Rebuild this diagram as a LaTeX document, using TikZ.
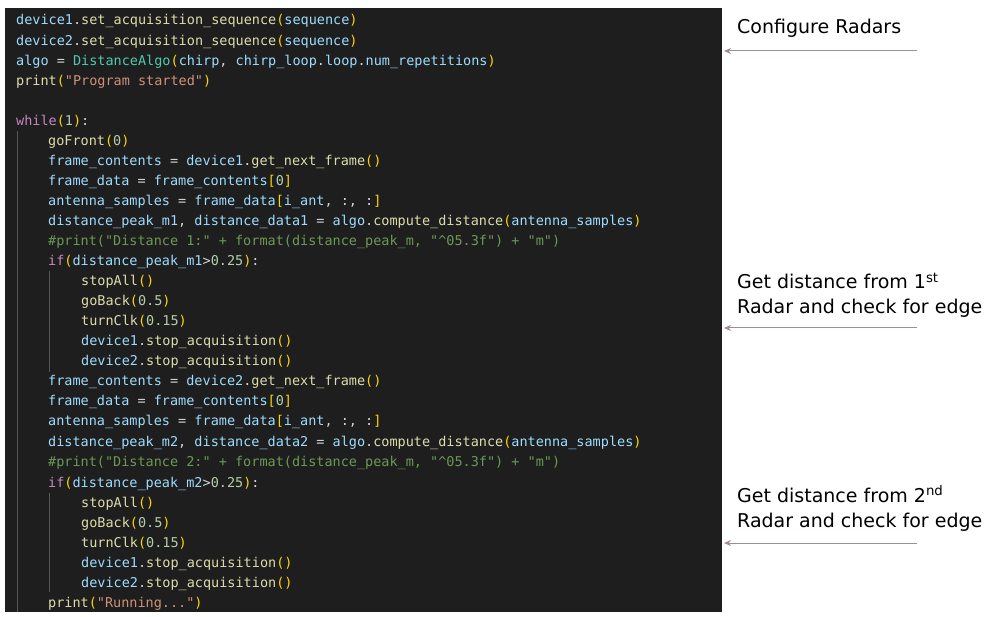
\documentclass[tikz,border=0pt]{standalone}
\usepackage{fontspec}
\setmainfont{DejaVu Sans}
\newfontfamily\codefont{DejaVu Sans Mono}
\usetikzlibrary{arrows.meta,positioning}

\definecolor{bgcode}{HTML}{1E1E1E}
\definecolor{cvar}{HTML}{9CDCFE}
\definecolor{cfun}{HTML}{DCDCAA}
\definecolor{ckey}{HTML}{C586C0}
\definecolor{cstr}{HTML}{CE9178}
\definecolor{cnum}{HTML}{B5CEA8}
\definecolor{ccom}{HTML}{6A9955}
\definecolor{ccls}{HTML}{4EC9B0}
\definecolor{cpar}{HTML}{FFD700}
\definecolor{cop}{HTML}{D4D4D4}
\definecolor{arrowgray}{HTML}{A08C92}

\newcommand{\cv}[1]{\textcolor{cvar}{#1}}
\newcommand{\cf}[1]{\textcolor{cfun}{#1}}
\newcommand{\ck}[1]{\textcolor{ckey}{#1}}
\newcommand{\cs}[1]{\textcolor{cstr}{#1}}
\newcommand{\cn}[1]{\textcolor{cnum}{#1}}
\newcommand{\cc}[1]{\textcolor{ccom}{#1}}
\newcommand{\ct}[1]{\textcolor{ccls}{#1}}
\newcommand{\cpl}{\textcolor{cpar}{(}}
\newcommand{\cpr}{\textcolor{cpar}{)}}
\newcommand{\cbl}{\textcolor{cpar}{[}}
\newcommand{\cbr}{\textcolor{cpar}{]}}

\begin{document}
\begin{tikzpicture}[x=1pt,y=-1pt,
    code/.style={anchor=base west,inner sep=0pt,text=cop,
      font=\codefont\fontsize{13.5}{16}\selectfont},
    note/.style={anchor=base west,inner sep=0pt,text=black,
      font=\fontsize{19}{22}\selectfont},
    pointer/.style={draw=arrowgray,line width=1pt,-{Stealth[length=7pt,width=6pt]}}]

  % canvas and code panel
  \useasboundingbox (0,0) rectangle (999,617);
  \fill[white] (0,0) rectangle (999,617);
  \fill[bgcode] (5,8) rectangle (722,612);
  \foreach \gx/\ya/\yb in {17/131/612,49/271/372,49/493/592}
    \draw[white!25!bgcode,line width=0.6pt] (\gx,\ya) -- (\gx,\yb);

  % code lines
  \node[code] (l1)  at (16,25)  {\cv{device1}.\cf{set\_acquisition\_sequence}\cpl\cv{sequence}\cpr};
  \node[code] (l2)  at (16,45.5){\cv{device2}.\cf{set\_acquisition\_sequence}\cpl\cv{sequence}\cpr};
  \node[code] (l3)  at (16,65.5){\cv{algo} = \ct{DistanceAlgo}\cpl\cv{chirp}, \cv{chirp\_loop}.\cv{loop}.\cv{num\_repetitions}\cpr};
  \node[code] (l4)  at (16,85.5){\cf{print}\cpl\cs{"Program started"}\cpr};
  \node[code] (l6)  at (16,125.5){\ck{while}\cpl\cn{1}\cpr:};
  \node[code] (l7)  at (48,145.5){\cf{goFront}\cpl\cn{0}\cpr};
  \node[code] (l8)  at (48,165.5){\cv{frame\_contents} = \cv{device1}.\cf{get\_next\_frame}\cpl\cpr};
  \node[code] (l9)  at (48,185.5){\cv{frame\_data} = \cv{frame\_contents}\cbl\cn{0}\cbr};
  \node[code] (l10) at (48,205.5){\cv{antenna\_samples} = \cv{frame\_data}\cbl\cv{i\_ant}, :, :\cbr};
  \node[code] (l11) at (48,225.5){\cv{distance\_peak\_m1}, \cv{distance\_data1} = \cv{algo}.\cf{compute\_distance}\cpl\cv{antenna\_samples}\cpr};
  \node[code] (l12) at (48,245.5){\cc{\#print("Distance 1:" + format(distance\_peak\_m, "\textasciicircum05.3f") + "m")}};
  \node[code] (l13) at (48,265.5){\ck{if}\cpl\cv{distance\_peak\_m1}>\cn{0.25}\cpr:};
  \node[code] (l14) at (81,285.5){\cf{stopAll}\cpl\cpr};
  \node[code] (l15) at (81,305.5){\cf{goBack}\cpl\cn{0.5}\cpr};
  \node[code] (l16) at (81,325.5){\cf{turnClk}\cpl\cn{0.15}\cpr};
  \node[code] (l17) at (81,346){\cv{device1}.\cf{stop\_acquisition}\cpl\cpr};
  \node[code] (l18) at (81,366){\cv{device2}.\cf{stop\_acquisition}\cpl\cpr};
  \node[code] (l19) at (48,386){\cv{frame\_contents} = \cv{device2}.\cf{get\_next\_frame}\cpl\cpr};
  \node[code] (l20) at (48,406){\cv{frame\_data} = \cv{frame\_contents}\cbl\cn{0}\cbr};
  \node[code] (l21) at (48,426){\cv{antenna\_samples} = \cv{frame\_data}\cbl\cv{i\_ant}, :, :\cbr};
  \node[code] (l22) at (48,446.5){\cv{distance\_peak\_m2}, \cv{distance\_data2} = \cv{algo}.\cf{compute\_distance}\cpl\cv{antenna\_samples}\cpr};
  \node[code] (l23) at (48,467){\cc{\#print("Distance 2:" + format(distance\_peak\_m, "\textasciicircum05.3f") + "m")}};
  \node[code] (l24) at (48,487){\ck{if}\cpl\cv{distance\_peak\_m2}>\cn{0.25}\cpr:};
  \node[code] (l25) at (81,507){\cf{stopAll}\cpl\cpr};
  \node[code] (l26) at (81,527){\cf{goBack}\cpl\cn{0.5}\cpr};
  \node[code] (l27) at (81,547){\cf{turnClk}\cpl\cn{0.15}\cpr};
  \node[code] (l28) at (81,567){\cv{device1}.\cf{stop\_acquisition}\cpl\cpr};
  \node[code] (l29) at (81,587){\cv{device2}.\cf{stop\_acquisition}\cpl\cpr};
  \node[code] (l30) at (48,607){\cf{print}\cpl\cs{"Running..."}\cpr};

  % annotations
  \node[note] (cfg)  at (737,34)  {Configure Radars};
  \node[note] (rad1) at (737,289) {Get distance from 1\textsuperscript{st}};
  \node[note] (rad1b) at (737,314) {Radar and check for edge};
  \node[note] (rad2) at (737,502) {Get distance from 2\textsuperscript{nd}};
  \node[note] (rad2b) at (737,527) {Radar and check for edge};

  \coordinate (cfgS) at (917,51);  \coordinate (cfgE) at (724,51);
  \coordinate (r1S)  at (917,328); \coordinate (r1E)  at (724,328);
  \coordinate (r2S)  at (917,543); \coordinate (r2E)  at (724,543);
  \draw[pointer] (cfgS) -- (cfgE);
  \draw[pointer] (r1S) -- (r1E);
  \draw[pointer] (r2S) -- (r2E);
\end{tikzpicture}
\end{document}
